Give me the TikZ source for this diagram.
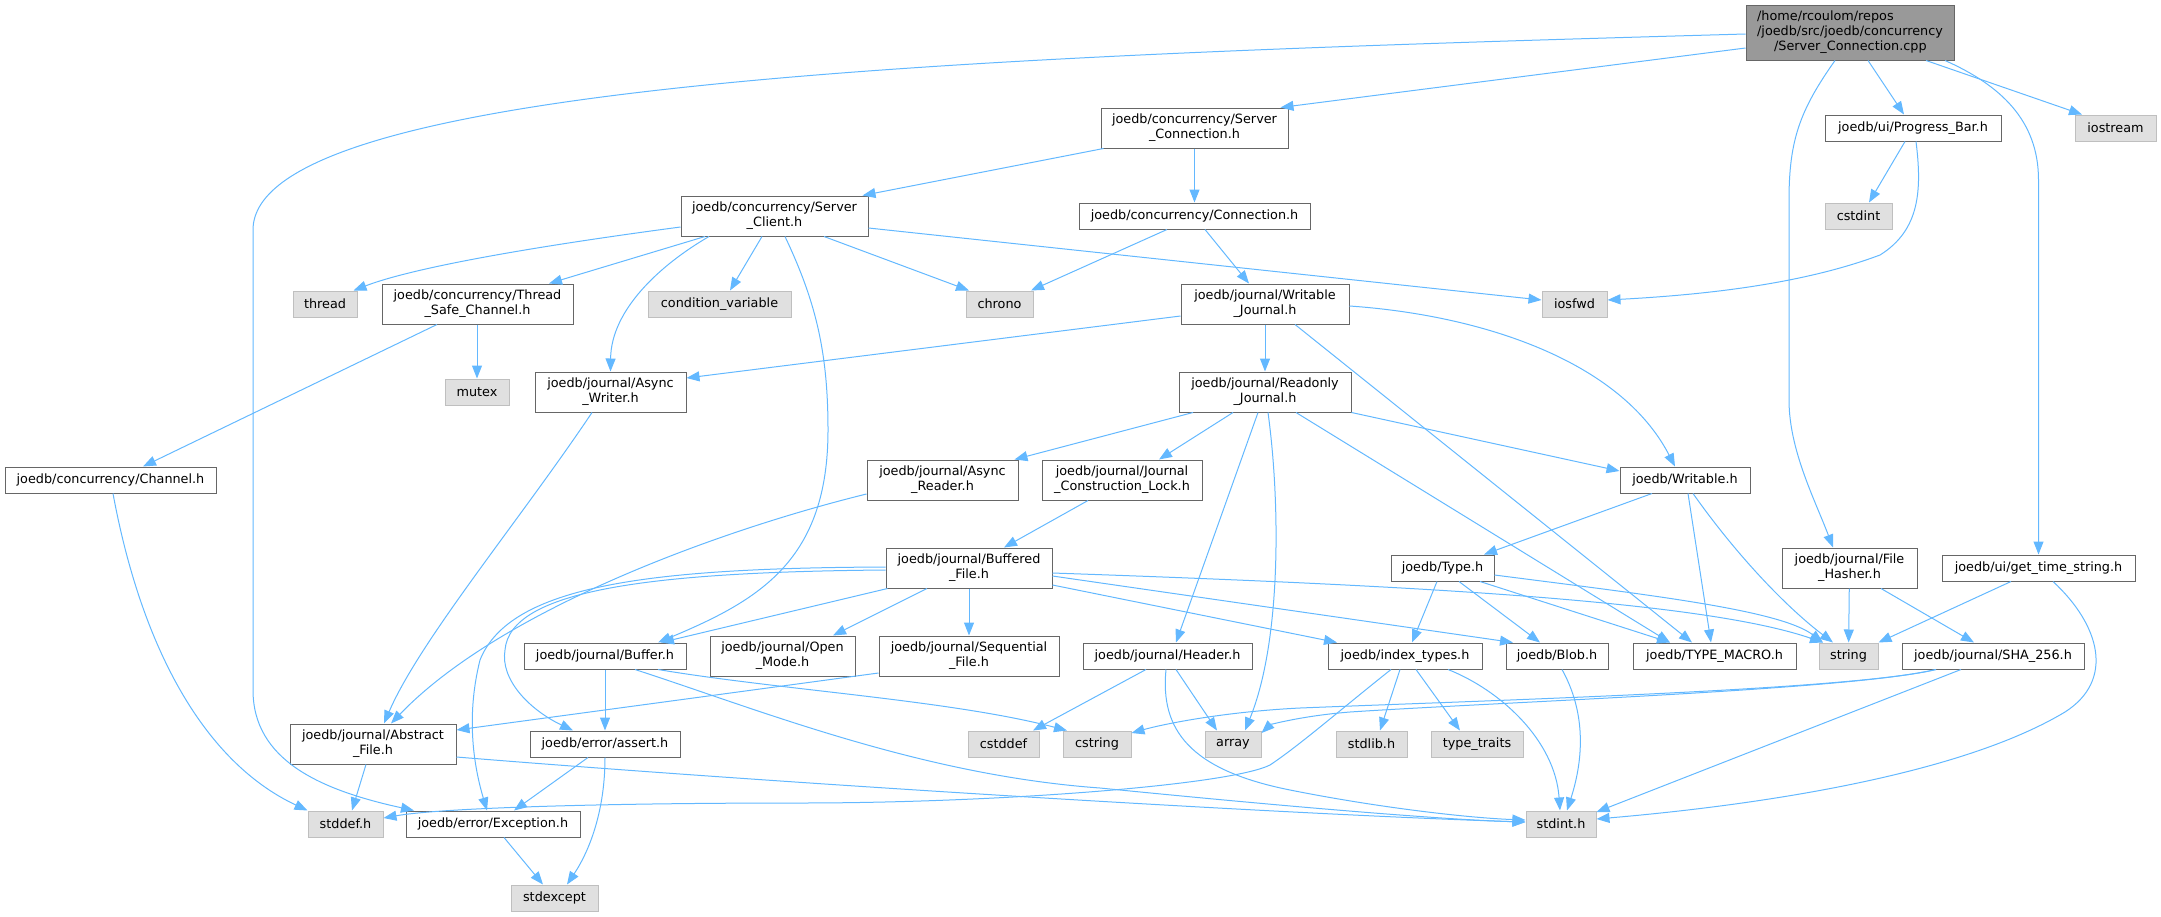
\documentclass[tikz,border=0pt]{standalone}
\usepackage{fontspec}
\setmainfont{DejaVu Sans}
\usetikzlibrary{arrows.meta}
\definecolor{edgeblue}{HTML}{63B8FF}
\definecolor{boxline}{HTML}{666666}
\definecolor{sysline}{HTML}{BFBFBF}
\definecolor{sysfill}{HTML}{E0E0E0}
\definecolor{mainfill}{HTML}{999999}
\begin{document}
\begin{tikzpicture}[x=1pt, y=-1pt,
        file/.style={rectangle, draw=boxline, fill=white, line width=1pt, align=center, inner xsep=2pt, inner ysep=1pt, minimum height=26pt, font=\fontsize{12.8pt}{15pt}\selectfont},
        sysfile/.style={file, draw=sysline, fill=sysfill},
        mainfile/.style={file, draw=boxline, fill=mainfill},
        line/.style={draw=edgeblue, line width=1pt, -{Triangle[length=13pt,width=10pt]}}]
        \useasboundingbox (0,0) rectangle (2161,916);
        \node [mainfile, minimum width=208pt, minimum height=55pt, align=left] (main) at (1850,32.5) {/home/rcoulom/repos\\/joedb/src/joedb/concurrency\\\hspace*{17pt}/Server\_Connection.cpp};
        \node [file, minimum width=187pt, minimum height=40pt] (srvconn) at (1194.5,128) {joedb/concurrency/Server\\\_Connection.h};
        \node [file, minimum width=176pt] (progress) at (1913,128) {joedb/ui/Progress\_Bar.h};
        \node [sysfile, minimum width=81pt] (iostream) at (2115.5,128) {iostream};
        \node [sysfile, minimum width=67pt] (cstdint) at (1858.5,216) {cstdint};
        \node [file, minimum width=187pt, minimum height=40pt] (srvclient) at (774.5,216) {joedb/concurrency/Server\\\_Client.h};
        \node [file, minimum width=231pt] (connection) at (1194.5,216) {joedb/concurrency/Connection.h};
        \node [sysfile, minimum width=64pt] (thread) at (325,304) {thread};
        \node [file, minimum width=191pt, minimum height=40pt] (tschannel) at (477.5,304) {joedb/concurrency/Thread\\\_Safe\_Channel.h};
        \node [sysfile, minimum width=143pt] (condvar) at (719.5,304) {condition\_variable};
        \node [sysfile, minimum width=67pt] (chrono) at (999.5,304) {chrono};
        \node [file, minimum width=168pt, minimum height=40pt] (wjournal) at (1265,304) {joedb/journal/Writable\\\_Journal.h};
        \node [sysfile, minimum width=65pt] (iosfwd) at (1574.5,304) {iosfwd};
        \node [sysfile, minimum width=64pt] (mutex) at (477,392) {mutex};
        \node [file, minimum width=151pt, minimum height=40pt] (awriter) at (610.5,392) {joedb/journal/Async\\\_Writer.h};
        \node [file, minimum width=172pt, minimum height=40pt] (rjournal) at (1265,392) {joedb/journal/Readonly\\\_Journal.h};
        \node [file, minimum width=211pt] (channel) at (110.5,480) {joedb/concurrency/Channel.h};
        \node [file, minimum width=151pt, minimum height=40pt] (areader) at (942.5,480) {joedb/journal/Async\\\_Reader.h};
        \node [file, minimum width=160pt, minimum height=40pt] (jclock) at (1122,480) {joedb/journal/Journal\\\_Construction\_Lock.h};
        \node [file, minimum width=130pt] (writable) at (1685,480) {joedb/Writable.h};
        \node [file, minimum width=166pt, minimum height=40pt] (bfile) at (969,568) {joedb/journal/Buffered\\\_File.h};
        \node [file, minimum width=103pt] (type) at (1442.5,568) {joedb/Type.h};
        \node [file, minimum width=135pt, minimum height=40pt] (fhasher) at (1849.5,568) {joedb/journal/File\\\_Hasher.h};
        \node [file, minimum width=193pt] (gettime) at (2038.5,568) {joedb/ui/get\_time\_string.h};
        \node [file, minimum width=162pt] (buffer) at (605,656) {joedb/journal/Buffer.h};
        \node [file, minimum width=145pt, minimum height=40pt] (openmode) at (782.5,656) {joedb/journal/Open\\\_Mode.h};
        \node [file, minimum width=180pt, minimum height=40pt] (seqfile) at (969,656) {joedb/journal/Sequential\\\_File.h};
        \node [file, minimum width=169pt] (header) at (1167.5,656) {joedb/journal/Header.h};
        \node [file, minimum width=154pt] (idxtypes) at (1405,656) {joedb/index\_types.h};
        \node [file, minimum width=102pt] (blob) at (1557,656) {joedb/Blob.h};
        \node [file, minimum width=163pt] (typemacro) at (1714.5,656) {joedb/TYPE\_MACRO.h};
        \node [sysfile, minimum width=59pt] (string) at (1848.5,656) {string};
        \node [file, minimum width=182pt] (sha) at (1993,656) {joedb/journal/SHA\_256.h};
        \node [file, minimum width=166pt, minimum height=40pt] (afile) at (373,744) {joedb/journal/Abstract\\\_File.h};
        \node [file, minimum width=150pt] (assert) at (605,744) {joedb/error/assert.h};
        \node [sysfile, minimum width=71pt] (cstddef) at (1003.5,744) {cstddef};
        \node [sysfile, minimum width=68pt] (cstring) at (1097,744) {cstring};
        \node [sysfile, minimum width=56pt] (array) at (1233,744) {array};
        \node [sysfile, minimum width=71pt] (stdlib) at (1371.5,744) {stdlib.h};
        \node [sysfile, minimum width=92pt] (typetraits) at (1477,744) {type\_traits};
        \node [sysfile, minimum width=75pt] (stddef) at (345.5,824) {stddef.h};
        \node [file, minimum width=174pt] (exception) at (493,824) {joedb/error/Exception.h};
        \node [sysfile, minimum width=70pt] (stdint) at (1561,824) {stdint.h};
        \node [sysfile, minimum width=87pt] (stdexcept) at (554.5,898) {stdexcept};

        \path [line] ([yshift=-15.5pt]main.west) -- ([xshift=-8pt]srvconn.north east);
        \path [line] ([yshift=-1.5pt]main.west) .. controls (1000,55) and (253,80) .. (253,230) -- (253,690) .. controls (253,760) and (320,790) .. ([xshift=-79pt]exception.north);
        \path [line] ([xshift=18pt]main.south) -- ([xshift=-9pt]progress.north);
        \path [line] ([xshift=76pt]main.south) -- ([xshift=-33.5pt]iostream.north);
        \path [line] ([xshift=-15pt]main.south) .. controls (1800,110) and (1789,140) .. (1789,200) -- (1789,400) .. controls (1789,450) and (1815,500) .. ([xshift=-16.5pt]fhasher.north);
        \path [line] ([xshift=95pt]main.south) .. controls (2000,85) and (2038.5,120) .. (2038.5,180) -- (gettime.north);
        \path [line] ([xshift=3pt]srvconn.south west) -- ([xshift=-6pt]srvclient.north east);
        \path [line] (srvconn) -- (connection);
        \path [line] ([yshift=-11pt]srvclient.west) .. controls (560,243) and (420,265) .. ([xshift=-4pt]thread.north east);
        \path [line] ([xshift=-69.5pt]srvclient.south) -- ([xshift=71.5pt]tschannel.north);
        \path [line] ([xshift=-12.5pt]srvclient.south) -- ([xshift=10.5pt]condvar.north);
        \path [line] ([xshift=49.5pt]srvclient.south) -- ([xshift=-30.5pt]chrono.north);
        \path [line] ([yshift=-12pt]srvclient.east) -- ([yshift=4pt]iosfwd.west);
        \path [line] ([xshift=-65.5pt]srvclient.south) .. controls (660,265) and (611,310) .. (awriter.north);
        \path [line] ([xshift=10.5pt]srvclient.south) .. controls (815,300) and (828,350) .. (828,430) .. controls (828,560) and (760,600) .. ([xshift=53pt]buffer.north);
        \path [line] ([xshift=-27.5pt]connection.south) -- ([xshift=31.5pt]chrono.north);
        \path [line] ([xshift=10.5pt]connection.south) -- ([xshift=-16pt]wjournal.north);
        \path [line] ([xshift=-0.5pt]tschannel.south) -- (mutex.north);
        \path [line] ([xshift=-40.5pt]tschannel.south) -- ([xshift=32.5pt]channel.north);
        \path [line] ([yshift=-12pt]wjournal.west) -- ([yshift=14pt]awriter.east);
        \path [line] (wjournal) -- (rjournal);
        \path [line] ([xshift=30pt]wjournal.south) -- ([xshift=-22.5pt]typemacro.north);
        \path [line] ([yshift=-2pt]wjournal.east) .. controls (1480,315) and (1620,360) .. ([xshift=-10pt]writable.north);
        \path [line] ([xshift=-72pt]rjournal.south) -- ([xshift=-4pt]areader.north east);
        \path [line] ([xshift=-32pt]rjournal.south) -- ([xshift=37pt]jclock.north);
        \path [line] ([xshift=-7pt]rjournal.south) -- ([xshift=8.5pt]header.north);
        \path [line] ([xshift=3pt]rjournal.south) .. controls (1280,500) and (1282,640) .. ([xshift=12pt]array.north);
        \path [line] ([xshift=31pt]rjournal.south) -- ([xshift=-44.5pt]typemacro.north);
        \path [line] (rjournal.south east) -- ([yshift=9pt]writable.west);
        \path [line] ([xshift=-18.5pt]awriter.south) .. controls (520,520) and (420,640) .. ([xshift=11pt]afile.north);
        \path [line] ([xshift=2.5pt]channel.south) .. controls (140,640) and (200,760) .. (stddef.north west);
        \path [line] ([yshift=-14pt]areader.west) .. controls (720,530) and (500,610) .. ([xshift=18pt]afile.north);
        \path [line] ([xshift=-34pt]jclock.south) -- ([xshift=35pt]bfile.north);
        \path [line] ([xshift=-33pt]writable.south) -- ([xshift=41.5pt]type.north);
        \path [line] ([xshift=3pt]writable.south) -- ([xshift=-3.5pt]typemacro.north);
        \path [line] ([xshift=8pt]writable.south) .. controls (1740,560) and (1790,610) .. ([xshift=-15.5pt]string.north);
        \path [line] ([xshift=2pt]bfile.south west) -- ([xshift=56pt]buffer.north);
        \path [line] ([xshift=-42pt]bfile.south) -- ([xshift=50.5pt]openmode.north);
        \path [line] (bfile) -- (seqfile);
        \path [line] ([yshift=1pt]bfile.west) .. controls (650,568) and (510,585) .. (480,660) .. controls (465,720) and (475,770) .. ([xshift=-6pt]exception.north);
        \path [line] ([yshift=-2pt]bfile.west) .. controls (650,572) and (510,590) .. (505,650) .. controls (500,680) and (530,710) .. ([xshift=-32pt]assert.north);
        \path [line] ([yshift=-17pt]bfile.east) -- ([xshift=-68pt]idxtypes.north);
        \path [line] ([yshift=-8pt]bfile.east) -- ([xshift=-44pt]blob.north);
        \path [line] ([yshift=-5pt]bfile.east) .. controls (1400,585) and (1700,600) .. ([xshift=-25.5pt]string.north);
        \path [line] ([yshift=-7pt]type.east) .. controls (1650,595) and (1780,610) .. ([xshift=-25.5pt]string.north);
        \path [line] ([xshift=37.5pt]type.south) -- ([xshift=-44.5pt]typemacro.north);
        \path [line] ([xshift=-5.5pt]type.south) -- ([xshift=7pt]idxtypes.north);
        \path [line] ([xshift=16.5pt]type.south) -- ([xshift=-17pt]blob.north);
        \path [line] (fhasher) -- (string);
        \path [line] ([xshift=31.5pt]fhasher.south) -- ([xshift=-19pt]sha.north);
        \path [line] ([xshift=-27.5pt]gettime.south) -- (string.north east);
        \path [line] ([xshift=14.5pt]gettime.south) .. controls (2100,625) and (2115,680) .. (2065,712) .. controls (1960,775) and (1760,805) .. ([yshift=5pt]stdint.east);
        \path [line] ([xshift=-32pt]sha.south) -- ([yshift=12pt]stdint.east);
        \path [line] ([xshift=-57pt]sha.south) .. controls (1850,690) and (1500,700) .. (1300,708) .. controls (1220,712) and (1160,725) .. ([yshift=11pt]cstring.east);
        \path [line] ([xshift=-57pt]sha.south) .. controls (1850,690) and (1500,702) .. (1350,712) .. controls (1300,716) and (1270,725) .. ([yshift=11pt]array.east);
        \path [line] (buffer) -- (assert);
        \path [line] ([xshift=53pt]buffer.south) .. controls (780,690) and (950,700) .. ([xshift=-30pt]cstring.north);
        \path [line] ([xshift=30pt]buffer.south) .. controls (760,710) and (920,775) .. (1100,788) .. controls (1300,808) and (1450,820) .. ([yshift=2pt]stdint.west);
        \path [line] ([xshift=-21.5pt]header.south) -- ([xshift=29.5pt]cstddef.north);
        \path [line] ([xshift=8.5pt]header.south) -- ([xshift=-16pt]array.north);
        \path [line] ([xshift=-1.5pt]header.south) .. controls (1160,730) and (1190,770) .. (1290,790) .. controls (1380,808) and (1470,818) .. ([yshift=4pt]stdint.west);
        \path [line] ([xshift=-14pt]idxtypes.south) .. controls (1340,710) and (1300,745) .. (1270,765) .. controls (1230,785) and (1000,803) .. (800,803) .. controls (600,803) and (440,808) .. ([yshift=6pt]stddef.east);
        \path [line] ([xshift=-5pt]idxtypes.south) -- ([xshift=8.5pt]stdlib.north);
        \path [line] ([xshift=11pt]idxtypes.south) -- ([xshift=-17pt]typetraits.north);
        \path [line] ([xshift=43pt]idxtypes.south) .. controls (1500,690) and (1555,740) .. ([xshift=-1pt]stdint.north);
        \path [line] ([xshift=5pt]blob.south) .. controls (1590,720) and (1580,770) .. ([xshift=6pt]stdint.north);
        \path [line] ([xshift=-7pt]afile.south) -- ([xshift=6.5pt]stddef.north);
        \path [line] ([yshift=-13pt]afile.east) .. controls (800,785) and (1300,815) .. ([yshift=2pt]stdint.west);
        \path [line] ([xshift=-17pt]assert.south) -- ([xshift=21pt]exception.north);
        \path [line] (assert.south) .. controls (605,810) and (590,850) .. ([xshift=12.5pt]stdexcept.north);
        \path [line] ([xshift=11pt]exception.south) -- ([xshift=-11.5pt]stdexcept.north);
        \path [line] ([xshift=-8pt]progress.south) -- ([xshift=10.5pt]cstdint.north);
        \path [line] ([xshift=3pt]progress.south) .. controls (1922,190) and (1920,230) .. (1880,255) .. controls (1800,285) and (1700,295) .. ([yshift=4pt]iosfwd.east);
        \path [line] ([yshift=-17pt]seqfile.west) -- ([yshift=14pt]afile.east);
    \end{tikzpicture}
\end{document}
